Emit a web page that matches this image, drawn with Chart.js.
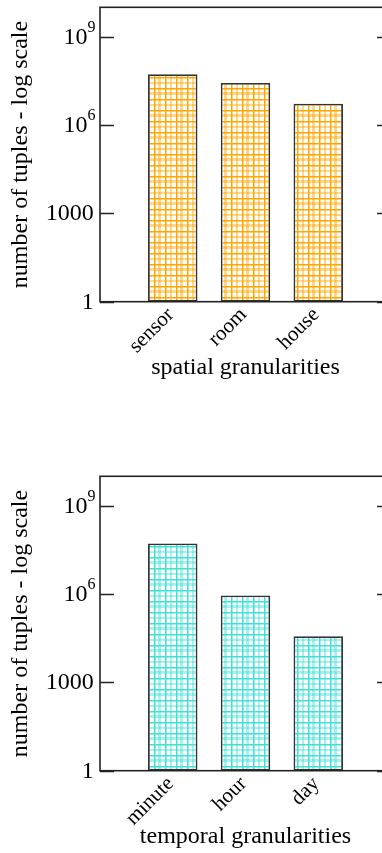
<!DOCTYPE html>
<html>
<head>
<meta charset="utf-8">
<script src="https://cdn.jsdelivr.net/npm/chart.js@4"></script>
<style>
  html, body { margin: 0; padding: 0; background: #fff; overflow: hidden; width: 382px; height: 853px; }
  .plot { position: absolute; left: 0; width: 400px; height: 384px; }
  #spatialWrap { top: 0; }
  #temporalWrap { top: 469px; }
</style>
</head>
<body>
<div class="plot" id="spatialWrap"><canvas id="spatialChart"></canvas></div>
<div class="plot" id="temporalWrap"><canvas id="temporalChart"></canvas></div>
<script>
// tuple counts per granularity
const spatialLabels = ['sensor', 'room', 'house'];
const spatialTuples = [5.3e7, 2.7e7, 5.3e6];
const temporalLabels = ['minute', 'hour', 'day'];
const temporalTuples = [5.2e7, 9.0e5, 3.7e4];

// y axis ticks (log scale), '^' marks an exponent
const yTickValues = [1, 1e3, 1e6, 1e9];
const yTickLabels = ['1', '1000', '10^6', '10^9'];

const FONT = '"Liberation Serif", "Times New Roman", serif';
const INK = '#000';

// plaid fill used for the bars
function plaidPattern(color) {
    const tile = document.createElement('canvas');
    tile.width = 22;
    tile.height = 22;
    const c = tile.getContext('2d');
    c.fillStyle = '#fff';
    c.fillRect(0, 0, 22, 22);
    c.fillStyle = color;
    c.globalAlpha = 0.45;
    [[4, 3], [16, 2]].forEach(([p, w]) => {
        c.fillRect(p, 0, w, 22);
        c.fillRect(0, p, 22, w);
    });
    c.globalAlpha = 1;
    [0, 11].forEach(p => {
        c.fillRect(p, 0, 1.5, 22);
        c.fillRect(0, p, 22, 1.5);
    });
    return c.createPattern(tile, 'repeat');
}

// box around the plot, inward ticks on both sides and the y tick labels
const framePlugin = {
    id: 'frame',
    afterDatasetsDraw(chart) {
        const { ctx, chartArea: a } = chart;
        const y = chart.scales.y;
        ctx.save();
        ctx.strokeStyle = '#222';
        ctx.lineWidth = 1.6;
        ctx.strokeRect(a.left, a.top, a.right - a.left, a.bottom - a.top);
        ctx.beginPath();
        yTickValues.forEach(v => {
            const py = Math.round(y.getPixelForValue(v)) + 0.5;
            ctx.moveTo(a.left, py);
            ctx.lineTo(a.left + 14, py);
            ctx.moveTo(a.right, py);
            ctx.lineTo(a.right - 14, py);
        });
        ctx.stroke();

        ctx.fillStyle = INK;
        ctx.textAlign = 'right';
        ctx.textBaseline = 'alphabetic';
        yTickLabels.forEach((txt, i) => {
            const py = y.getPixelForValue(yTickValues[i]);
            const [base, exp] = txt.split('^');
            let right = 93.8;
            if (exp) {
                ctx.font = '16px ' + FONT;
                ctx.fillText(exp, 95.5, py - 5);
                right = 95.5 - ctx.measureText(exp).width;
            }
            ctx.font = '24px ' + FONT;
            ctx.fillText(base, right, py + 7);
        });
        ctx.restore();
    }
};

function createGranularityChart(canvasId, labels, values, color, xTitle) {
    const ctx = document.getElementById(canvasId);
    return new Chart(ctx, {
        type: 'bar',
        data: {
            datasets: [{
                data: values.map((v, i) => ({ x: i + 1, y: v })),
                backgroundColor: plaidPattern(color),
                borderColor: '#333',
                borderWidth: 1.8,
                borderSkipped: false,
                categoryPercentage: 1,
                barPercentage: 0.68
            }]
        },
        options: {
            responsive: true,
            maintainAspectRatio: false,
            animation: false,
            devicePixelRatio: 1,
            layout: { padding: { top: 7.3, right: 9, left: 0, bottom: 0 } },
            plugins: {
                legend: { display: false },
                tooltip: { enabled: false }
            },
            scales: {
                x: {
                    type: 'linear',
                    min: 0,
                    max: 4,
                    offset: false,
                    grid: { display: false },
                    border: { display: false },
                    afterBuildTicks: scale => {
                        scale.ticks = labels.map((l, i) => ({ value: i + 1 }));
                    },
                    afterFit: scale => { scale.height = 82.3; },
                    ticks: {
                        autoSkip: false,
                        minRotation: 45,
                        maxRotation: 45,
                        padding: -7,
                        labelOffset: -2,
                        color: INK,
                        font: { family: FONT, size: 21 },
                        callback: value => labels[value - 1]
                    },
                    title: {
                        display: true,
                        text: xTitle,
                        color: INK,
                        font: { family: FONT, size: 24 },
                        padding: { top: 0, bottom: 2 }
                    }
                },
                y: {
                    type: 'logarithmic',
                    min: 1,
                    max: 1e10,
                    grid: { display: false },
                    border: { display: false },
                    ticks: { display: false },
                    afterFit: scale => { scale.width = 100; },
                    title: {
                        display: true,
                        text: 'number of tuples - log scale',
                        color: INK,
                        font: { family: FONT, size: 24 },
                        padding: { top: 6, bottom: 0 }
                    }
                }
            }
        },
        plugins: [framePlugin]
    });
}

createGranularityChart('spatialChart', spatialLabels, spatialTuples, '#FFA500', 'spatial granularities');
createGranularityChart('temporalChart', temporalLabels, temporalTuples, '#40E0D8', 'temporal granularities');
</script>
</body>
</html>
